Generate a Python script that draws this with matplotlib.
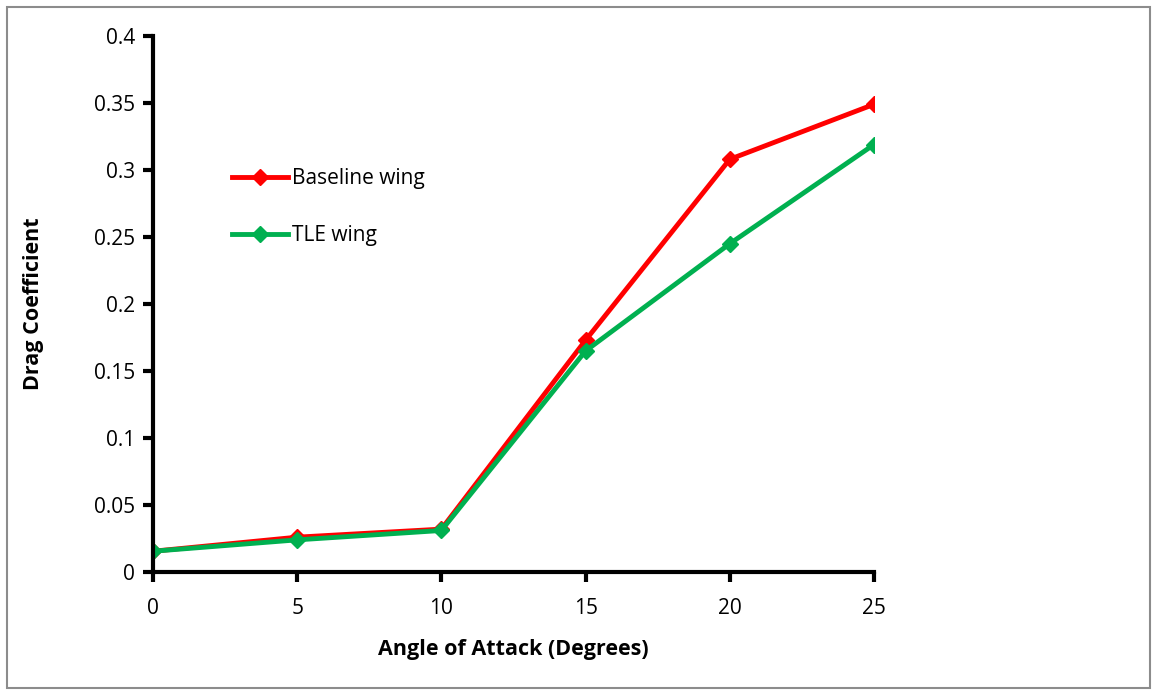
import matplotlib.pyplot as plt
from matplotlib.patches import Rectangle

plt.rcParams['font.family'] = ['Open Sans', 'DejaVu Sans']

# Drag coefficient vs angle of attack
angles = [0, 5, 10, 15, 20, 25]
cd_baseline = [0.0155, 0.026, 0.032, 0.173, 0.308, 0.349]
cd_tle = [0.0155, 0.024, 0.031, 0.165, 0.245, 0.319]

fig = plt.figure(figsize=(11.53, 6.91), dpi=100)
ax = fig.add_axes([0.1327, 0.1722, 0.6253, 0.7757])

ax.plot(angles, cd_baseline, color='#ff0000', lw=3.5, marker='D', ms=8,
        label='Baseline wing')
ax.plot(angles, cd_tle, color='#00b050', lw=3.5, marker='D', ms=8,
        label='TLE wing')

ax.set_xlim(0, 25)
ax.set_ylim(0, 0.4)
ax.set_xticks(angles)
ax.set_yticks([0, 0.05, 0.1, 0.15, 0.2, 0.25, 0.3, 0.35, 0.4])
ax.set_yticklabels(['0', '0.05', '0.1', '0.15', '0.2', '0.25', '0.3', '0.35', '0.4'])

for side in ['top', 'right']:
    ax.spines[side].set_visible(False)
for side in ['left', 'bottom']:
    ax.spines[side].set_linewidth(3)
ax.tick_params(axis='both', direction='out', length=7, width=3, labelsize=15, pad=6)
ax.tick_params(axis='x', pad=12)

ax.set_xlabel('Angle of Attack (Degrees)', fontsize=15.5, fontweight='bold', labelpad=14)
ax.set_ylabel('Drag Coefficient', fontsize=15.5, fontweight='bold', labelpad=36)

ax.legend(loc='upper left', bbox_to_anchor=(0.194, 0.769), bbox_transform=fig.transFigure,
          frameon=False, fontsize=15, handlelength=2.7, handletextpad=0.2,
          labelspacing=1.75, borderaxespad=0)

# grey frame around the whole chart
fig.patches.append(Rectangle((7 / 1153, 3 / 691), 1143 / 1153, 681 / 691,
                             transform=fig.transFigure, fill=False,
                             edgecolor='#8c8c8c', lw=1.5))

fig.savefig('out.png', dpi=100)
